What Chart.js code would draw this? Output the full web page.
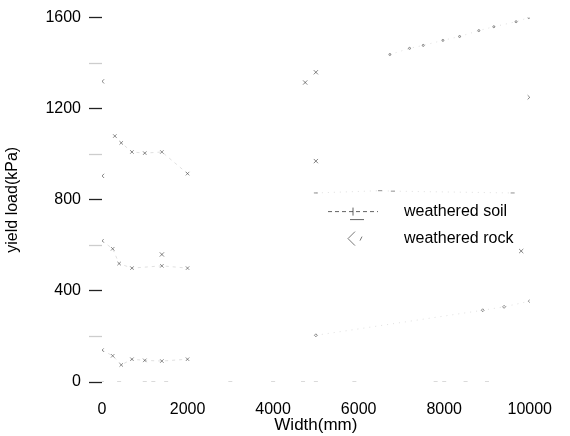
<!DOCTYPE html>
<html>
<head>
<meta charset="utf-8">
<script src="https://cdn.jsdelivr.net/npm/chart.js@4.4.1/dist/chart.umd.min.js"></script>
<style>
 html,body{margin:0;padding:0;background:#fff;}
 #wrap{width:570px;height:436px;}
</style>
</head>
<body>
<div id="wrap"><canvas id="c" width="570" height="436"></canvas></div>
<script>
// values (width in mm, yield load in kPa)
const xTicks=[0,2000,4000,6000,8000,10000];
const yTicks=[0,400,800,1200,1600];

const soilLowX=[0,250,450,700,1000,1400,2000];
const soilLowY=[140,115,75,100,95,92,100];
const soilMidX=[0,250,400,700,1400,2000];
const soilMidY=[620,585,520,500,510,500];
const soilHighX=[300,450,700,1000,1400,2000];
const soilHighY=[1080,1050,1010,1005,1010,915];
const soilBaseX=[0,400,1000,1200,1500,3000,4000,4700,5000,5900,7800,8000,8500,9000];
const soilBaseY=[0,0,0,0,0,0,0,0,0,0,0,0,0,0];

const rockTopX=[6730,7190,7510,7970,8360,8810,9160,9680,9980];
const rockTopY=[1438,1465,1478,1500,1517,1543,1560,1582,1600];
const rockMidX=[5000,6500,6800,9600];
const rockMidY=[830,840,838,830];
const rockLowX=[5000,8900,9400,10000];
const rockLowY=[205,315,330,355];
const rockPtsX=[5000,4750,10000,5000,9800,0,0,1400];
const rockPtsY=[1360,1315,1250,970,575,1320,905,560];

const legendNames=["weathered soil","weathered rock"];

function pts(xs,ys){
 return xs.map((x,i)=>({x:x,y:ys[i]}));
}

const soilStyle={
 showLine:true,borderColor:"rgba(130,130,130,0.25)",borderWidth:1,borderDash:[3,4],
 pointStyle:"crossRot",pointRadius:2.5,pointBorderColor:"rgba(70,70,70,0.6)",pointBorderWidth:1,
 backgroundColor:"transparent"
};
const rockStyle={
 showLine:true,borderColor:"rgba(130,130,130,0.25)",borderWidth:1,borderDash:[1,5],
 pointStyle:"rectRot",pointRadius:2.5,pointBorderColor:"rgba(70,70,70,0.6)",pointBorderWidth:1,
 backgroundColor:"transparent"
};

const datasets=[
 Object.assign({label:legendNames[0],data:pts(soilLowX,soilLowY)},soilStyle),
 Object.assign({label:legendNames[0],data:pts(soilMidX,soilMidY)},soilStyle),
 Object.assign({label:legendNames[0],data:pts(soilHighX,soilHighY)},soilStyle),
 Object.assign({label:legendNames[0],data:pts(soilBaseX,soilBaseY)},soilStyle,{showLine:false,pointStyle:"line",pointRadius:2,pointBorderColor:"rgba(90,90,90,0.45)"}),
 Object.assign({label:legendNames[1],data:pts(rockTopX,rockTopY)},rockStyle,{pointStyle:"circle",pointRadius:1}),
 Object.assign({label:legendNames[1],data:pts(rockMidX,rockMidY)},rockStyle,{pointStyle:"line",pointRadius:2}),
 Object.assign({label:legendNames[1],data:pts(rockLowX,rockLowY)},rockStyle,{pointRadius:1.5}),
 Object.assign({label:legendNames[1],data:pts(rockPtsX,rockPtsY)},rockStyle,{showLine:false,pointRadius:3,pointStyle:"crossRot",pointBorderColor:"rgba(50,50,50,0.6)"})
];

// legend drawn inside the plot, as in the figure
const innerLegend={
 id:"innerLegend",
 afterDraw(chart){
  const a=chart.chartArea,ctx=chart.ctx;
  const x0=a.left+226,x1=a.left+276,tx=a.left+302;
  const rows=[a.top+194,a.top+221];
  ctx.save();
  // soil sample
  ctx.strokeStyle="rgba(60,60,60,0.8)";
  ctx.lineWidth=1;
  ctx.setLineDash([4,3]);
  ctx.beginPath();ctx.moveTo(x0,rows[0]);ctx.lineTo(x1,rows[0]);ctx.stroke();
  ctx.setLineDash([]);
  ctx.beginPath();
  ctx.moveTo(x0+25,rows[0]-4);ctx.lineTo(x0+25,rows[0]+4);
  ctx.moveTo(x0+22,rows[0]+8);ctx.lineTo(x0+36,rows[0]+8);
  ctx.stroke();
  // rock sample
  ctx.strokeStyle="rgba(60,60,60,0.7)";
  ctx.beginPath();
  ctx.moveTo(x0+27,rows[1]-7);ctx.lineTo(x0+20,rows[1]);ctx.lineTo(x0+27,rows[1]+7);
  ctx.moveTo(x0+34,rows[1]-2);ctx.lineTo(x0+32,rows[1]+2);
  ctx.stroke();
  ctx.fillStyle="#000";
  ctx.font="16px 'Liberation Sans', Arial, sans-serif";
  ctx.textBaseline="middle";
  ctx.textAlign="left";
  legendNames.forEach((n,i)=>ctx.fillText(n,tx,rows[i]));
  ctx.restore();
 }
};

const tickFont={family:"'Liberation Sans', Arial, sans-serif",size:16};

new Chart(document.getElementById("c"),{
 type:"scatter",
 data:{datasets:datasets},
 options:{
  responsive:false,
  animation:false,
  devicePixelRatio:1,
  layout:{padding:{top:15,right:30,left:0,bottom:0}},
  plugins:{legend:{display:false},tooltip:{enabled:false}},
  scales:{
   x:{
    type:"linear",min:xTicks[0],max:xTicks[xTicks.length-1],
    afterBuildTicks:s=>{s.ticks=xTicks.map(v=>({value:v}));},
    afterFit:s=>{s.height=54;},
    border:{display:false},
    grid:{display:false,drawTicks:false},
    ticks:{color:"#000",font:tickFont,padding:18,maxRotation:0,callback:v=>v},
    title:{display:true,text:"Width(mm)",color:"#000",font:{family:"'Liberation Sans', Arial, sans-serif",size:17},padding:{top:0,bottom:0}}
   },
   y:{
    type:"linear",min:0,max:1600,
    afterBuildTicks:s=>{
     const t=[];
     for(let v=0;v<=1600;v+=200)t.push({value:v});
     s.ticks=t;
    },
    afterFit:s=>{s.width=102;},
    border:{display:false},
    grid:{drawOnChartArea:false,drawTicks:true,tickLength:13,tickWidth:1.3,
     tickColor:c=>(c.tick&&c.tick.value%400)?"rgba(90,90,90,0.3)":"#222"},
    ticks:{color:"#000",font:tickFont,padding:8,autoSkip:false,
     callback:v=>yTicks.includes(v)?v:""},
    title:{display:true,text:"yield load(kPa)",color:"#000",font:{family:"'Liberation Sans', Arial, sans-serif",size:16},padding:{top:3,bottom:0}}
   }
  }
 },
 plugins:[innerLegend]
});
</script>
</body>
</html>
